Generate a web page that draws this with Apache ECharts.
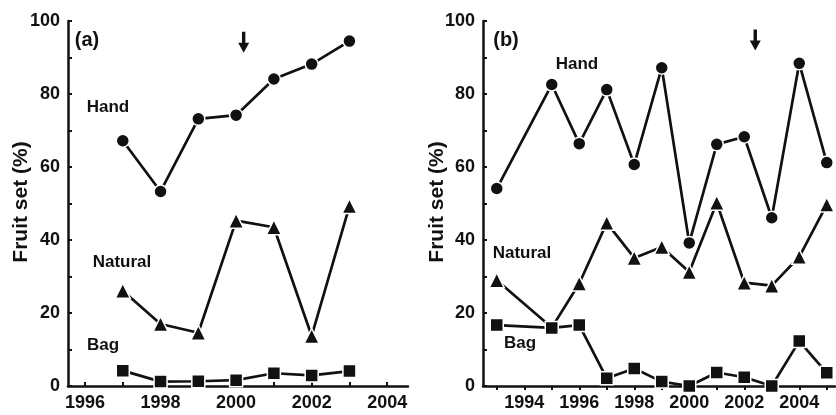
<!DOCTYPE html>
<html>
<head>
<meta charset="utf-8">
<script src="https://cdn.jsdelivr.net/npm/echarts@6/dist/echarts.min.js"></script>
<style>
  html, body { margin: 0; padding: 0; background: #fff; }
  #main { width: 836px; height: 415px; }
</style>
</head>
<body>
<div id="main"></div>
<script>
// panel (a)
var yearsA = [1997, 1998, 1999, 2000, 2001, 2002, 2003]
var handA = [67.2, 53.3, 73.2, 74.2, 84.1, 88.2, 94.5]
var naturalA = [26.1, 17.0, 14.6, 45.3, 43.5, 13.7, 49.3]
var bagA = [4.2, 1.2, 1.3, 1.6, 3.5, 2.9, 4.1]
var ticksA = [1996, 1997, 1998, 1999, 2000, 2001, 2002, 2003, 2004]
var labelsA = [1996, 1998, 2000, 2002, 2004]

// panel (b)
var yearsB = [1993, 1995, 1996, 1997, 1998, 1999, 2000, 2001, 2002, 2003, 2004, 2005]
var handB = [54.1, 82.6, 66.4, 81.2, 60.7, 87.2, 39.2, 66.2, 68.3, 46.1, 88.4, 61.2]
var naturalB = [29.0, 16.0, 28.1, 44.7, 35.1, 38.1, 31.2, 50.2, 28.3, 27.5, 35.4, 49.7]
var bagB = [16.7, 15.9, 16.7, 2.1, 4.8, 1.2, 0, 3.7, 2.4, 0, 12.3, 3.6]
var ticksB = [1993, 1994, 1995, 1996, 1997, 1998, 1999, 2000, 2001, 2002, 2003, 2004, 2005]
var labelsB = [1994, 1996, 1998, 2000, 2002, 2004]

// arrows (year of treatment change)
var arrowA = [2000.2, 94.2]
var arrowB = [2002.4, 94.8]

var ink = '#111'
var font = 'Liberation Sans, Arial, sans-serif'

function pairs (xs, ys) {
  return xs.map(function (x, i) { return [x, ys[i]] })
}

function xAxisOf (idx, min, max, ticks, labels, inside) {
  return {
    type: 'value', gridIndex: idx, min: min, max: max,
    splitLine: { show: false },
    axisLine: { onZero: false, lineStyle: { color: ink, width: 2.5 } },
    axisTick: { customValues: ticks, inside: inside, length: 4, lineStyle: { color: ink, width: 2 } },
    axisLabel: {
      customValues: labels, margin: 8, color: ink,
      fontFamily: font, fontSize: 18, fontWeight: 'bold',
      formatter: function (v) { return String(Math.round(v)) }
    }
  }
}

function yAxisOf (idx) {
  return {
    type: 'value', gridIndex: idx, min: 0, max: 100, interval: 10,
    splitLine: { show: false },
    axisLine: { lineStyle: { color: ink, width: 2.5 } },
    axisTick: { inside: true, length: 4, lineStyle: { color: ink, width: 2 } },
    axisLabel: {
      margin: 8, color: ink, fontFamily: font, fontSize: 18, fontWeight: 'bold',
      formatter: function (v) { return v % 20 === 0 ? String(v) : '' }
    }
  }
}

function lineOf (idx, data, symbol, size, arrow) {
  var s = {
    type: 'line', xAxisIndex: idx, yAxisIndex: idx,
    data: data, symbol: symbol, symbolSize: size, showAllSymbol: true,
    lineStyle: { color: ink, width: 2.7 },
    itemStyle: { color: ink, borderColor: '#fff', borderWidth: 1.5 },
    z: 3
  }
  if (arrow) {
    s.markPoint = {
      symbol: 'path://M3.8,0 L7.2,0 L7.2,11 L11,11 L5.5,21 L0,11 L3.8,11 Z',
      symbolSize: [11, 21],
      itemStyle: { color: ink },
      label: { show: false },
      data: [{ coord: arrow }]
    }
  }
  return s
}

function note (text, x, y, size, rot) {
  return {
    type: 'text', x: x, y: y, rotation: rot || 0,
    style: {
      text: text, fill: ink, font: 'bold ' + (size || 17) + 'px ' + font,
      align: 'center', verticalAlign: 'middle'
    }
  }
}

var chart = echarts.init(document.getElementById('main'))
chart.setOption({
  animation: false,
  backgroundColor: '#fff',
  grid: [
    { left: 68, top: 21, width: 340, height: 365 },
    { left: 483, top: 21, width: 352, height: 365 }
  ],
  xAxis: [
    xAxisOf(0, 1995.55, 2004.55, ticksA, labelsA, true),
    xAxisOf(1, 1992.5, 2005.3, ticksB, labelsB, false)
  ],
  yAxis: [yAxisOf(0), yAxisOf(1)],
  series: [
    lineOf(0, pairs(yearsA, handA), 'circle', 13, arrowA),
    lineOf(0, pairs(yearsA, naturalA), 'triangle', 15),
    lineOf(0, pairs(yearsA, bagA), 'rect', 13),
    lineOf(1, pairs(yearsB, handB), 'circle', 13, arrowB),
    lineOf(1, pairs(yearsB, naturalB), 'triangle', 15),
    lineOf(1, pairs(yearsB, bagB), 'rect', 13)
  ],
  graphic: [
    note('Fruit set (%)', 21, 202, 21, Math.PI / 2),
    note('Fruit set (%)', 437, 202, 21, Math.PI / 2),
    note('(a)', 87, 40, 20),
    note('Hand', 108, 107),
    note('Natural', 122, 262),
    note('Bag', 103, 345),
    note('(b)', 506, 40, 20),
    note('Hand', 577, 64),
    note('Natural', 522, 253),
    note('Bag', 520, 343)
  ]
})
</script>
</body>
</html>
